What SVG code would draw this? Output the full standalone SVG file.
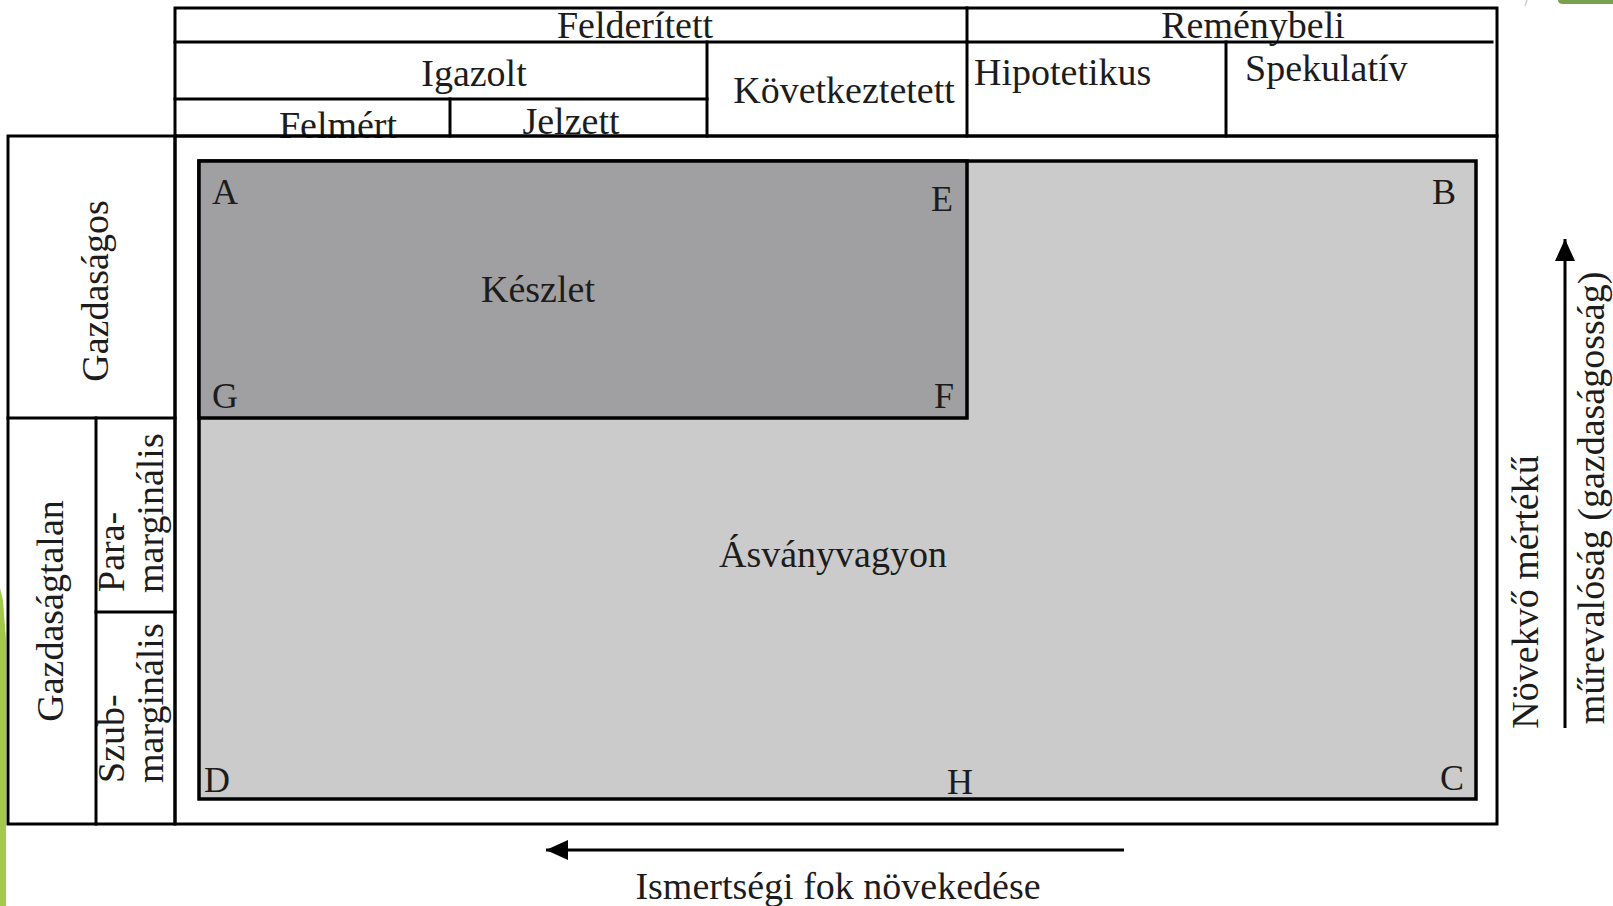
<svg xmlns="http://www.w3.org/2000/svg" width="1613" height="906" viewBox="0 0 1613 906">
  <style>
    .ln { stroke: #000; stroke-width: 3; fill: none; stroke-linecap: square; }
    .t { font-family: "Liberation Serif", "Times New Roman", serif; font-size: 38px; fill: #1c1c1c; }
    .c { text-anchor: middle; }
    .k { font-family: "Liberation Serif", "Times New Roman", serif; font-size: 36px; fill: #1c1c1c; }
  </style>
  <defs>
    <marker id="head" markerUnits="userSpaceOnUse" markerWidth="24" markerHeight="22" refX="22" refY="11" orient="auto">
      <path d="M0,1 L22,11 L0,21 Z" fill="#000"/>
    </marker>
  </defs>

  <rect width="1613" height="906" fill="#fff"/>

  <!-- slide decoration -->
  <path d="M0,588 L3,600 L6,640 L6,906 L0,906 Z" fill="#a3c94a"/>
  <path d="M1558,0 L1613,0 L1613,4 L1563,4 Q1558,4 1558,0 Z" fill="#79a24c"/>
  <path d="M1527,0 L1525,6" stroke="#cfcfcf" stroke-width="1.5"/>

  <!-- resource field -->
  <g id="asvanyvagyon">
    <rect x="199" y="161" width="1277" height="638" fill="#cbcbcb" stroke="#000" stroke-width="3.5"/>
    <text class="t c" x="833" y="567">Ásványvagyon</text>
    <text class="k" x="1432" y="204">B</text>
    <text class="k" x="204" y="792">D</text>
    <text class="k" x="947" y="794">H</text>
    <text class="k" x="1440" y="790">C</text>
  </g>

  <g id="keszlet">
    <rect x="199" y="161" width="768" height="257" fill="#a0a0a2" stroke="#000" stroke-width="3.5"/>
    <text class="t c" x="538" y="302">Készlet</text>
    <text class="k" x="212" y="204">A</text>
    <text class="k" x="931" y="211">E</text>
    <text class="k" x="212" y="408">G</text>
    <text class="k" x="934" y="408">F</text>
  </g>

  <!-- header table -->
  <g id="felderitett">
    <text class="t c" x="635" y="38">Felderített</text>
  </g>
  <g id="remenybeli">
    <text class="t c" x="1253" y="38">Reménybeli</text>
  </g>
  <g id="igazolt">
    <text class="t c" x="474" y="86">Igazolt</text>
  </g>
  <g id="felmert">
    <text class="t c" x="338" y="138">Felmért</text>
  </g>
  <g id="jelzett">
    <text class="t c" x="571" y="134">Jelzett</text>
  </g>
  <g id="kovetkeztetett">
    <text class="t c" x="844" y="103">Következtetett</text>
  </g>
  <g id="hipotetikus">
    <text class="t" x="974" y="85">Hipotetikus</text>
  </g>
  <g id="spekulativ">
    <text class="t" x="1245" y="81">Spekulatív</text>
  </g>

  <!-- left column -->
  <g id="gazdasagos">
    <text class="t c" transform="translate(108,291) rotate(-90)">Gazdaságos</text>
  </g>
  <g id="gazdasagtalan">
    <text class="t c" transform="translate(63,611) rotate(-90)">Gazdaságtalan</text>
  </g>
  <g id="paramarginalis">
    <text class="t" transform="translate(124,592) rotate(-90)">Para-</text>
    <text class="t" transform="translate(163,593) rotate(-90)">marginális</text>
  </g>
  <g id="szubmarginalis">
    <text class="t" transform="translate(124,783) rotate(-90)">Szub-</text>
    <text class="t" transform="translate(163,783) rotate(-90)">marginális</text>
  </g>

  <!-- grid lines -->
  <g id="grid">
    <rect class="ln" x="175" y="8" width="1322" height="128"/>
    <line class="ln" x1="175" y1="42" x2="967" y2="42"/>
    <line class="ln" x1="967" y1="42" x2="1492" y2="42"/>
    <line class="ln" x1="967" y1="8" x2="967" y2="136"/>
    <line class="ln" x1="175" y1="99" x2="707" y2="99"/>
    <line class="ln" x1="707" y1="42" x2="707" y2="136"/>
    <line class="ln" x1="450" y1="99" x2="450" y2="136"/>
    <line class="ln" x1="1226" y1="42" x2="1226" y2="136"/>
    <rect class="ln" x="175" y="136" width="1322" height="688"/>
    <rect class="ln" x="8" y="136" width="167" height="688"/>
    <line class="ln" x1="8" y1="418" x2="175" y2="418"/>
    <line class="ln" x1="96" y1="418" x2="96" y2="824"/>
    <line class="ln" x1="96" y1="612" x2="175" y2="612"/>
  </g>

  <!-- axis arrows -->
  <g id="connectors">
    <line x1="1124" y1="850" x2="546" y2="850" stroke="#000" stroke-width="3" marker-end="url(#head)"/>
    <line x1="1565" y1="728" x2="1565" y2="239" stroke="#000" stroke-width="3" marker-end="url(#head)"/>
  </g>

  <g id="axis-labels">
    <text class="t c" x="838" y="899">Ismertségi fok növekedése</text>
    <text class="t c" transform="translate(1538,592) rotate(-90)">Növekvő mértékű</text>
    <text class="t c" transform="translate(1604,498) rotate(-90)">műrevalóság (gazdaságosság)</text>
  </g>
</svg>
